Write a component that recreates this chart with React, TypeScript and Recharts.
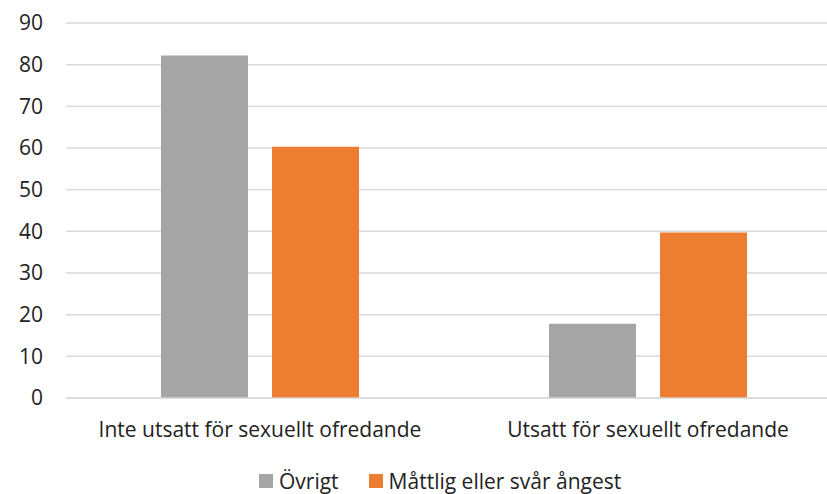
import React from "react";
import { BarChart, Bar, XAxis, YAxis, CartesianGrid, Legend } from "recharts";

const categories = ["Inte utsatt för sexuellt ofredande", "Utsatt för sexuellt ofredande"];
const ovrigt = [82.2, 17.8];
const angest = [60.3, 39.7];
const yTicks = [0, 10, 20, 30, 40, 50, 60, 70, 80, 90];
const seriesNames = ["Övrigt", "Måttlig eller svår ångest"];
const colors = ["#A5A5A5", "#ED7D31"];

const data = categories.map((c, i) => ({ name: c, ovrigt: ovrigt[i], angest: angest[i] }));

const FONT = "'Open Sans', sans-serif";
const FS = 21;

const LegendContent = () => (
  <div style={{ display: "flex", justifyContent: "flex-start", alignItems: "center", fontFamily: FONT, fontSize: FS, color: "#222", lineHeight: "20px" }}>
    {seriesNames.map((n, i) => (
      <div key={n} style={{ display: "flex", alignItems: "center", marginRight: i === 0 ? 30 : 0 }}>
        <span style={{ display: "inline-block", width: 14, height: 14, background: colors[i], marginRight: 6 }} />
        <span>{n}</span>
      </div>
    ))}
  </div>
);

export default function App() {
  return (
    <div style={{ position: "fixed", top: 0, left: 0, width: 827, height: 494, overflow: "hidden", background: "#fff" }}>
      <BarChart
        width={850}
        height={494}
        data={data}
        margin={{ top: 23, right: 8, bottom: 0, left: 0 }}
        barSize={87}
        barGap={24}
      >
        <CartesianGrid vertical={false} stroke="#d9d9d9" strokeWidth={1.5} />
        <XAxis
          dataKey="name"
          height={60}
          axisLine={{ stroke: "#d9d9d9", strokeWidth: 1.5 }}
          tickLine={false}
          tickSize={0}
          tickMargin={24}
          tick={{ fontFamily: FONT, fontSize: FS, fill: "#222" }}
        />
        <YAxis
          width={66}
          domain={[0, 90]}
          ticks={yTicks}
          axisLine={false}
          tickLine={false}
          tickSize={0}
          tickMargin={23}
          tick={{ fontFamily: FONT, fontSize: FS, fill: "#222" }}
        />
        <Legend
          verticalAlign="bottom"
          height={36}
          content={<LegendContent />}
          wrapperStyle={{ left: 259, width: 540, top: 471 }}
        />
        <Bar dataKey="ovrigt" name={seriesNames[0]} fill={colors[0]} isAnimationActive={false} />
        <Bar dataKey="angest" name={seriesNames[1]} fill={colors[1]} isAnimationActive={false} />
      </BarChart>
    </div>
  );
}
